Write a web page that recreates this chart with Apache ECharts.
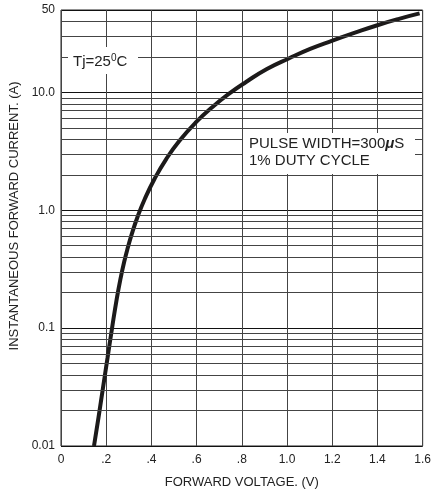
<!DOCTYPE html>
<html>
<head>
<meta charset="utf-8">
<script src="https://cdn.jsdelivr.net/npm/echarts@6/dist/echarts.min.js"></script>
<style>
  html, body { margin: 0; padding: 0; background: #fff; }
  #chart { width: 434px; height: 494px; }
</style>
</head>
<body>
<div id="chart"></div>
<script>
// forward voltage (V) / instantaneous forward current (A)
var voltage = [0.146, 0.166, 0.186, 0.206, 0.226, 0.247, 0.2624, 0.2791, 0.2954, 0.313, 0.3393, 0.3701, 0.4141, 0.4655,
               0.524, 0.5974, 0.6703, 0.7437, 0.8171, 0.9108, 1.0075, 1.1024, 1.1978, 1.3007, 1.4031, 1.4954, 1.5864];
var current = [0.010, 0.0175, 0.0314, 0.0562, 0.1006, 0.179, 0.258, 0.362, 0.480, 0.628, 0.885, 1.24, 1.85, 2.72,
               3.89, 5.59, 7.52, 9.75, 12.2, 15.8, 19.4, 23.4, 27.4, 32.1, 37.3, 42.1, 46.8];

// minor log grid lines between the decades
var minorLines = [0.02, 0.03, 0.04, 0.05, 0.06, 0.07, 0.08, 0.09,
                  0.2, 0.3, 0.4, 0.5, 0.6, 0.7, 0.8, 0.9,
                  2, 3, 4, 5, 6, 7, 8, 9,
                  20, 30, 40];

var font = '"Liberation Sans", Arial, sans-serif';

var curve = voltage.map(function (v, i) { return [v, current[i]]; });

var chart = echarts.init(document.getElementById('chart'));

chart.setOption({
  animation: false,
  backgroundColor: '#fff',
  grid: {
    left: 61,
    right: 10,
    top: 10,
    bottom: 45,
    show: true,
    borderColor: '#222',
    borderWidth: 1
  },
  xAxis: {
    type: 'value',
    min: 0,
    max: 1.6,
    interval: 0.2,
    name: 'FORWARD VOLTAGE. (V)',
    nameLocation: 'middle',
    nameGap: 30,
    nameTextStyle: { fontFamily: font, fontSize: 13, color: '#222' },
    axisLine: { show: false },
    axisTick: { show: false },
    axisLabel: {
      fontFamily: font, fontSize: 12, color: '#222', margin: 8,
      formatter: function (v) {
        if (v === 0) return '0';
        var s = v.toFixed(1);
        return v < 1 ? s.substring(1) : s;
      }
    },
    splitLine: { show: true, lineStyle: { color: '#444', width: 1 } }
  },
  yAxis: {
    type: 'log',
    logBase: 10,
    min: 0.01,
    max: 50,
    axisLine: { show: false },
    axisTick: { show: false },
    axisLabel: {
      fontFamily: font, fontSize: 12, color: '#222', margin: 6,
      formatter: function (v) {
        if (v >= 49) return '50';
        if (v < 1) return String(+v.toPrecision(1));
        return v.toFixed(1);
      }
    },
    splitLine: { show: true, lineStyle: { color: '#111', width: 1 } }
  },
  graphic: [
    {
      type: 'text',
      x: 14,
      y: 216,
      rotation: Math.PI / 2,
      style: {
        text: 'INSTANTANEOUS FORWARD CURRENT. (A)',
        font: '13px ' + font,
        fill: '#222',
        align: 'center',
        verticalAlign: 'middle'
      }
    },
    {
      type: 'rect',
      z: 100,
      shape: { x: 68, y: 47, width: 70, height: 27 },
      style: { fill: '#fff' }
    },
    {
      type: 'text',
      z: 101,
      x: 73,
      y: 62,
      style: {
        text: 'Tj=25{sup|0}C',
        font: '15px ' + font,
        fill: '#222',
        verticalAlign: 'middle',
        rich: {
          sup: { fontSize: 10, fontFamily: font, fill: '#222', padding: [0, 0, 8, 0] }
        }
      }
    },
    {
      type: 'rect',
      z: 100,
      shape: { x: 243, y: 133, width: 172, height: 41 },
      style: { fill: '#fff' }
    },
    {
      type: 'text',
      z: 101,
      x: 249,
      y: 144,
      style: {
        text: 'PULSE WIDTH=300{mu|μ}S',
        font: '15px ' + font,
        fill: '#222',
        verticalAlign: 'middle',
        rich: {
          mu: { fontSize: 15, fontFamily: font, fontWeight: 'bold', fontStyle: 'italic', fill: '#222' }
        }
      }
    },
    {
      type: 'text',
      z: 101,
      x: 249,
      y: 161,
      style: {
        text: '1% DUTY CYCLE',
        font: '15px ' + font,
        fill: '#222',
        verticalAlign: 'middle'
      }
    }
  ],
  series: [
    {
      type: 'line',
      data: [],
      silent: true,
      markLine: {
        silent: true,
        symbol: 'none',
        label: { show: false },
        lineStyle: { color: '#444', width: 1, type: 'solid' },
        data: minorLines.map(function (v) { return { yAxis: v }; })
      }
    },
    {
      type: 'line',
      data: curve,
      smooth: 0.5,
      showSymbol: false,
      silent: true,
      lineStyle: { color: '#1c1a1a', width: 4 }
    }
  ]
});
</script>
</body>
</html>
